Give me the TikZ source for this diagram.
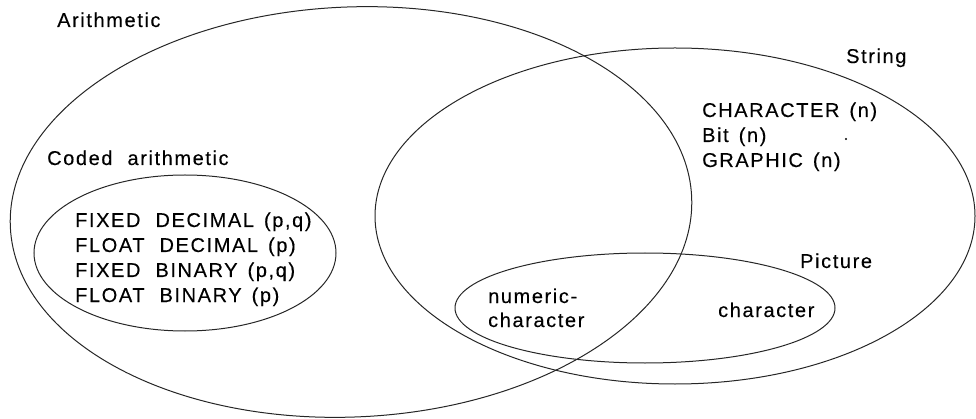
\documentclass[tikz,border=0pt]{standalone}
\usepackage{fontspec}
\setmainfont{Liberation Sans}[LetterSpace=8,FakeBold=0.25]
\newcommand{\wgap}{\hspace{15pt}}
\newcommand{\sgap}{\hspace{10pt}}
\begin{document}
\begin{tikzpicture}[x=1pt,y=-1pt,
  venn/.style={draw=black!85,line width=1pt},
  lbl/.style={anchor=base west,inner sep=0pt,font=\fontsize{20}{25}\selectfont}]
\useasboundingbox (0,0) rectangle (976,419);
% Arithmetic
\draw[venn,rotate around={2.5:(351,212)}] (351,212) ellipse [x radius=341, y radius=205];
% String
\draw[venn] (675,216) ellipse [x radius=300, y radius=168];
% Coded arithmetic
\draw[venn] (185,253) ellipse [x radius=151, y radius=78];
% Picture
\draw[venn] (645,308) ellipse [x radius=190, y radius=55];

\node[lbl] (arith) at (57,27) {Arithmetic};
\node[lbl] (str) at (846,63) {String};
\node[lbl] (coded) at (47,165) {Coded\wgap arithmetic};
\node[lbl] (pict) at (800,268) {Picture};

\node[lbl] (c1) at (702,117) {CHARACTER\sgap(n)};
\node[lbl] (c2) at (702,142) {Bit\sgap(n)};
\node[lbl] (c3) at (702,167) {GRAPHIC\sgap(n)};
\fill (846,139) circle [radius=1.2];

\node[lbl] (f1) at (75,227) {FIXED\wgap DECIMAL\sgap(p,q)};
\node[lbl] (f2) at (75,252) {FLOAT\wgap DECIMAL\sgap(p)};
\node[lbl] (f3) at (75,277) {FIXED\wgap BINARY\sgap(p,q)};
\node[lbl] (f4) at (75,302) {FLOAT\wgap BINARY\sgap(p)};

\node[lbl] (n1) at (488,303) {numeric-};
\node[lbl] (n2) at (488,327) {character};
\node[lbl] (ch) at (718,317) {character};
\end{tikzpicture}
\end{document}
